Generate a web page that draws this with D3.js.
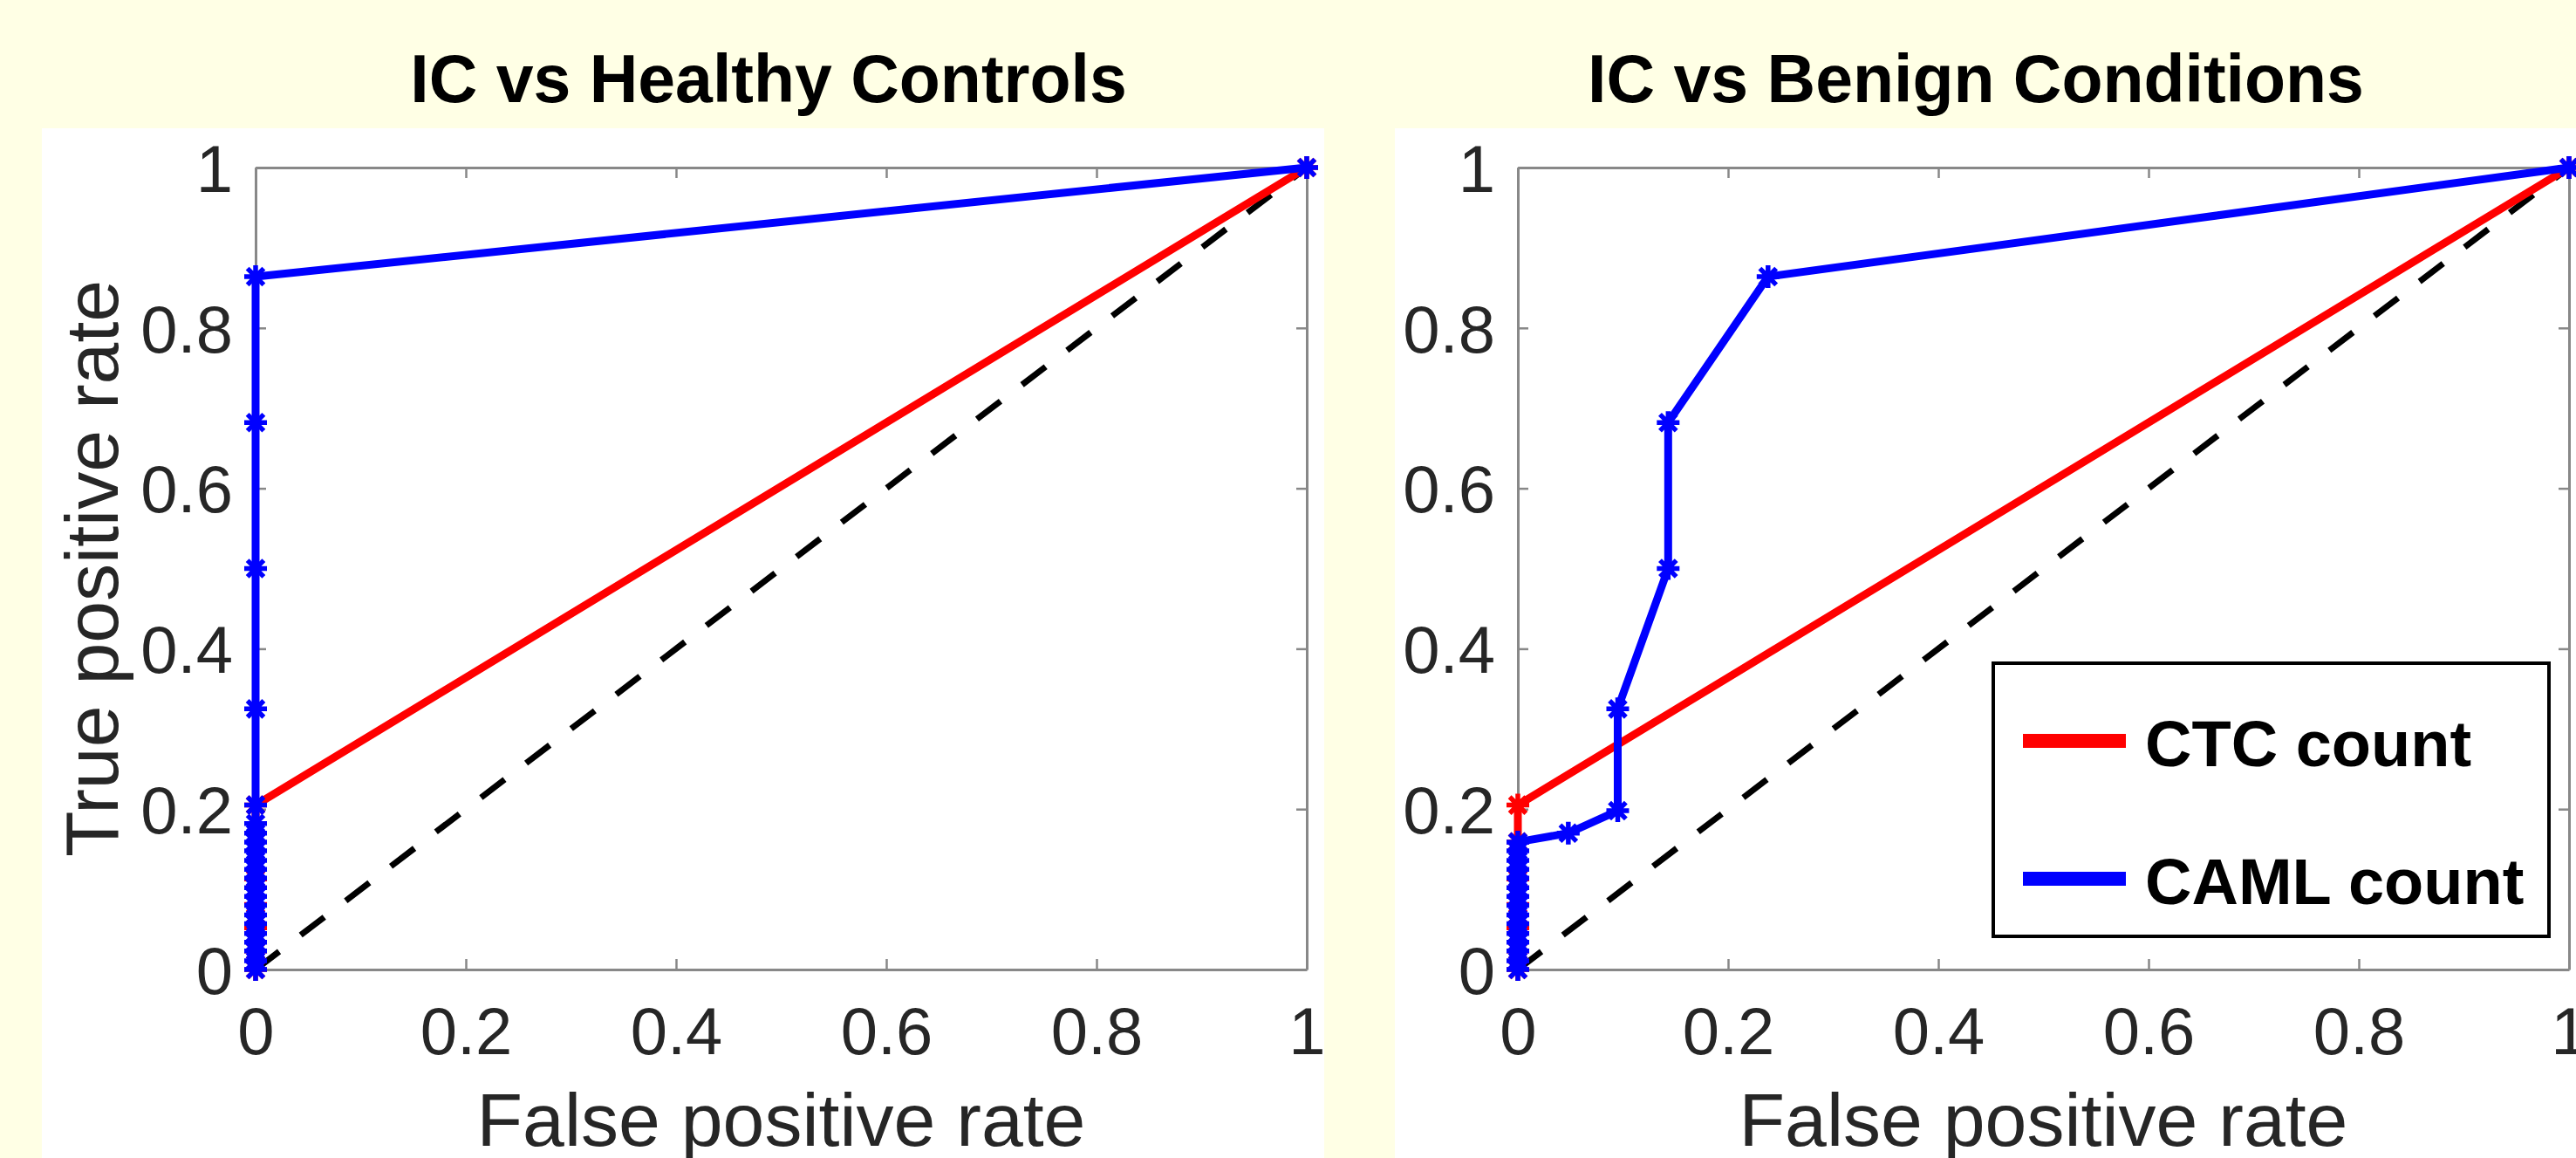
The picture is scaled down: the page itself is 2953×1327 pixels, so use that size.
<!DOCTYPE html>
<html>
<head>
<meta charset="utf-8">
<script src="https://cdn.jsdelivr.net/npm/d3@7"></script>
<style>
  body { margin: 0; background: #FFFFE5; }
  svg { display: block; }
</style>
</head>
<body>
<svg id="chart" width="2953" height="1327"></svg>
<script>
// tick values and labels
var ticks = [0, 0.2, 0.4, 0.6, 0.8, 1];
var tickLabels = ["0", "0.2", "0.4", "0.6", "0.8", "1"];
var chance = [0, 1];

// IC vs Healthy Controls
var healthyCtcFpr  = [0, 0, 0, 0, 0, 0, 1];
var healthyCtcTpr  = [0, 0.023, 0.052, 0.081, 0.113, 0.205, 1];
var healthyCamlFpr = [0, 0, 0, 0, 0, 0, 0, 0, 0, 0, 0, 0, 0, 0, 0, 0, 0, 0, 0, 0, 0, 0, 1];
var healthyCamlTpr = [0, 0.011, 0.023, 0.034, 0.045, 0.057, 0.068, 0.08, 0.091, 0.102, 0.114, 0.125, 0.136, 0.148, 0.159, 0.17, 0.182, 0.205, 0.325, 0.5, 0.682, 0.864, 1];

// IC vs Benign Conditions
var benignCtcFpr  = [0, 0, 0, 0, 0, 0, 0, 1];
var benignCtcTpr  = [0, 0.023, 0.052, 0.081, 0.113, 0.159, 0.205, 1];
var benignCamlFpr = [0, 0, 0, 0, 0, 0, 0, 0, 0, 0, 0, 0, 0, 0, 0, 0.048, 0.095, 0.095, 0.143, 0.143, 0.238, 1];
var benignCamlTpr = [0, 0.011, 0.023, 0.034, 0.045, 0.057, 0.068, 0.08, 0.091, 0.102, 0.114, 0.125, 0.136, 0.148, 0.159, 0.17, 0.198, 0.325, 0.5, 0.682, 0.864, 1];

var seriesNames = ["CTC count", "CAML count"];
var seriesColors = ["#FF0000", "#0000FF"];

var font = "'Liberation Sans', Arial, Helvetica, sans-serif";
var svg = d3.select("#chart");

// white panels
svg.append("rect").attr("x", 48).attr("y", 147).attr("width", 1470).attr("height", 1180).attr("fill", "#fff");
svg.append("rect").attr("x", 1599).attr("y", 147).attr("width", 1354).attr("height", 1180).attr("fill", "#fff");

var plotW = 1205, plotH = 919, plotTop = 192;

function toPoints(xs, ys) {
  return xs.map(function (x, i) { return [x, ys[i]]; });
}

function asterisk(g, pts, x, y, color) {
  var r = 13, q = r * 0.72;
  var path = "M" + -r + ",0H" + r + "M0," + -r + "V" + r +
    "M" + -q + "," + -q + "L" + q + "," + q +
    "M" + -q + "," + q + "L" + q + "," + -q;
  g.selectAll(null).data(pts).enter().append("path")
    .attr("transform", function (d) { return "translate(" + x(d[0]) + "," + y(d[1]) + ")"; })
    .attr("d", path)
    .attr("stroke", color)
    .attr("stroke-width", 5.5)
    .attr("fill", "none");
}

function drawPanel(left, title, titleX, showYLabel, ctc, caml, legend) {
  var x = d3.scaleLinear().domain([0, 1]).range([left, left + plotW]);
  var y = d3.scaleLinear().domain([0, 1]).range([plotTop + plotH, plotTop]);
  var g = svg.append("g");

  // box with inward ticks on all four sides
  var axisColor = "#888";
  function styleAxis(a) {
    a.select(".domain").attr("stroke", axisColor).attr("stroke-width", 3);
    a.selectAll(".tick line").attr("stroke", axisColor).attr("stroke-width", 2.5);
  }
  var bottom = g.append("g").attr("transform", "translate(0," + (plotTop + plotH) + ")")
    .call(d3.axisBottom(x).tickValues(ticks).tickSize(-12).tickSizeOuter(0).tickFormat(function (d, i) { return tickLabels[i]; }));
  styleAxis(bottom);
  bottom.selectAll("text").attr("y", 97).attr("dy", 0)
    .attr("font-family", font).attr("font-size", 76).attr("fill", "#262626");

  var leftAx = g.append("g").attr("transform", "translate(" + left + ",0)")
    .call(d3.axisLeft(y).tickValues(ticks).tickSize(-12).tickSizeOuter(0).tickFormat(function (d, i) { return tickLabels[i]; }));
  styleAxis(leftAx);
  leftAx.selectAll("text").attr("x", -26).attr("dy", "0.36em")
    .attr("font-family", font).attr("font-size", 76).attr("fill", "#262626");

  var top = g.append("g").attr("transform", "translate(0," + plotTop + ")")
    .call(d3.axisTop(x).tickValues(ticks).tickSize(-12).tickSizeOuter(0).tickFormat(""));
  styleAxis(top);
  var right = g.append("g").attr("transform", "translate(" + (left + plotW) + ",0)")
    .call(d3.axisRight(y).tickValues(ticks).tickSize(-12).tickSizeOuter(0).tickFormat(""));
  styleAxis(right);

  var line = d3.line().x(function (d) { return x(d[0]); }).y(function (d) { return y(d[1]); });

  // chance diagonal
  g.append("path").datum(toPoints(chance, chance)).attr("d", line)
    .attr("fill", "none").attr("stroke", "#000").attr("stroke-width", 7)
    .attr("stroke-dasharray", "34,31");

  [ctc, caml].forEach(function (s, i) {
    var pts = toPoints(s[0], s[1]);
    g.append("path").datum(pts).attr("d", line)
      .attr("fill", "none").attr("stroke", seriesColors[i]).attr("stroke-width", 9)
      .attr("stroke-linejoin", "round");
    asterisk(g, pts, x, y, seriesColors[i]);
  });

  // title and axis labels
  svg.append("text").attr("x", titleX).attr("y", 117).attr("text-anchor", "middle")
    .attr("font-family", font).attr("font-weight", "bold").attr("font-size", 77)
    .attr("fill", "#000").text(title);
  svg.append("text").attr("x", left + plotW / 2).attr("y", 1313).attr("text-anchor", "middle")
    .attr("font-family", font).attr("font-size", 86).attr("fill", "#262626").text("False positive rate");
  if (showYLabel) {
    svg.append("text").attr("transform", "translate(135," + (plotTop + plotH / 2) + ") rotate(-90)")
      .attr("text-anchor", "middle")
      .attr("font-family", font).attr("font-size", 86).attr("fill", "#262626").text("True positive rate");
  }

  if (legend) {
    var lg = svg.append("g");
    lg.append("rect").attr("x", 2285).attr("y", 760).attr("width", 637).attr("height", 313)
      .attr("fill", "#fff").attr("stroke", "#000").attr("stroke-width", 4);
    seriesNames.forEach(function (name, i) {
      var ly = 849 + i * 158;
      lg.append("line").attr("x1", 2319).attr("x2", 2437).attr("y1", ly).attr("y2", ly)
        .attr("stroke", seriesColors[i]).attr("stroke-width", 16);
      lg.append("text").attr("x", 2459).attr("y", ly + 29)
        .attr("font-family", font).attr("font-weight", "bold").attr("font-size", 74)
        .attr("fill", "#000").text(name);
    });
  }
}

drawPanel(293, "IC vs Healthy Controls", 881, true,
  [healthyCtcFpr, healthyCtcTpr], [healthyCamlFpr, healthyCamlTpr], false);
drawPanel(1740, "IC vs Benign Conditions", 2265, false,
  [benignCtcFpr, benignCtcTpr], [benignCamlFpr, benignCamlTpr], true);
</script>
</body>
</html>
